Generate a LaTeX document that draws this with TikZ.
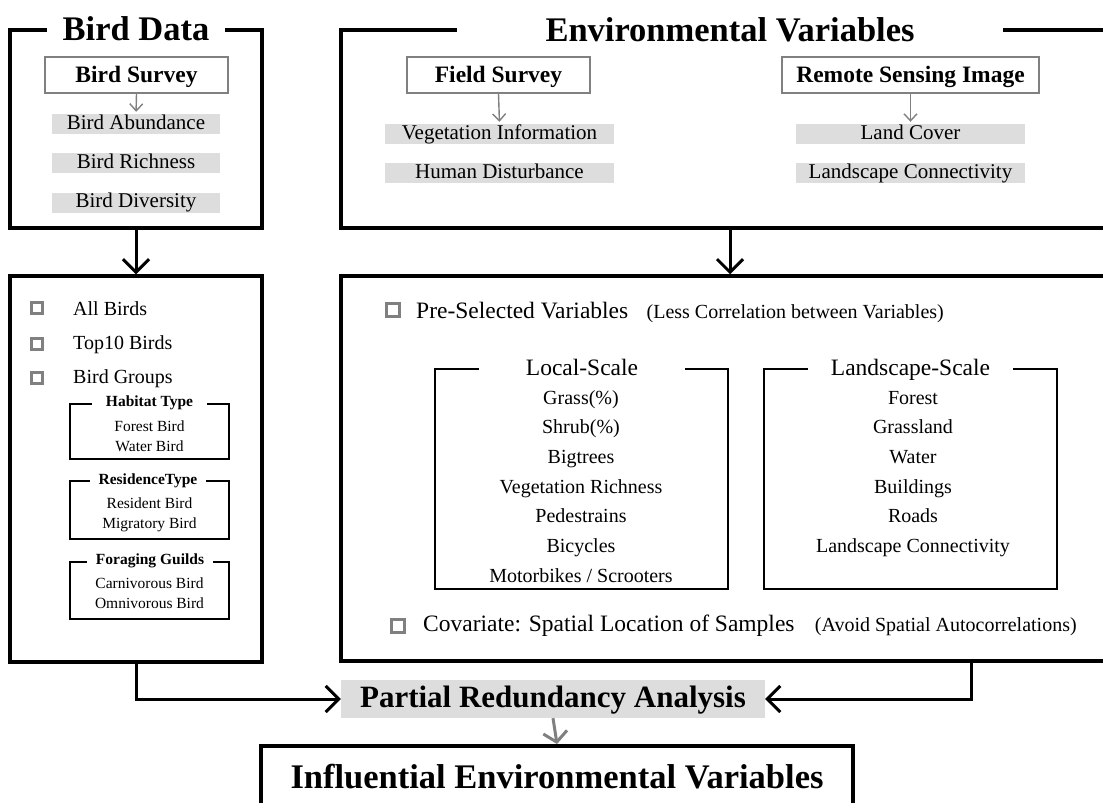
\documentclass[tikz,border=0pt]{standalone}
\usepackage{fontspec}
\setmainfont{Liberation Serif}
\definecolor{BarGray}{RGB}{221, 221, 221}
\definecolor{MidGray}{RGB}{128, 128, 128}
\usepackage{tikz}
\usetikzlibrary{arrows.meta, positioning}

\newcommand{\fsBig}{\fontsize{34.5}{40}\selectfont\bfseries}
\newcommand{\fsMid}{\fontsize{23.5}{28}\selectfont}
\newcommand{\fsText}{\fontsize{20}{24}\selectfont}
\newcommand{\fsSmall}{\fontsize{15.5}{18}\selectfont}

\begin{document}
\begin{tikzpicture}[x=1pt, y=-1pt, every node/.style={inner sep=0pt},
    mainbox/.style={draw, line width=3.5pt},
    scalebox/.style={draw, line width=2pt},
    groupbox/.style={draw, line width=1.8pt},
    gaptitle/.style={fill=white, anchor=base},
    surveybox/.style={draw=MidGray, line width=1.5pt, minimum height=36pt, font=\fsMid\bfseries, text height=16pt, text depth=2pt},
    barbox/.style={fill=BarGray, minimum height=20pt, font=\fontsize{21}{24}\selectfont, text height=14pt, text depth=4pt},
    bullet/.style={draw=MidGray, fill=white, line width=3pt, minimum size=11pt},
    listtext/.style={anchor=base west, font=\fsText},
    scaleitem/.style={font=\fsText, text height=14pt, text depth=4.5pt},
    subitem/.style={font=\fsSmall, text height=11pt, text depth=3.5pt},
    bigarrow/.style={-{Straight Barb[length=13pt, width=26pt]}, line width=3pt},
    grayarrow/.style={-{Straight Barb[length=7pt, width=13pt]}, draw=MidGray, line width=1.4pt, shorten >=2pt}]
    \useasboundingbox (0,0) rectangle (1103,803);

    % bird data
    \node[mainbox, minimum width=252pt, minimum height=198pt] (BD) at (136,129) {};
    \node[gaptitle, minimum width=178pt, font=\fsBig] (BDt) at (136,40) {Bird Data};
    \node[surveybox, minimum width=183pt] (BS) at (136.5,75) {Bird Survey};
    \node[barbox, minimum width=168pt] (BAb) at (136,124) {Bird Abundance};
    \node[barbox, minimum width=168pt, below=19pt of BAb] (BRi) {Bird Richness};
    \node[barbox, minimum width=168pt, below=19pt of BRi] (BDi) {Bird Diversity};
    \draw[grayarrow] (BS.south) -- (BAb.north);

    % environmental variables
    \node[mainbox, minimum width=778pt, minimum height=198pt] (EV) at (730,129) {};
    \node[gaptitle, minimum width=546pt, font=\fsBig] (EVt) at (730,41) {Environmental Variables};
    \node[surveybox, minimum width=183pt] (FS) at (498.5,75) {Field Survey};
    \node[surveybox, minimum width=257pt] (RS) at (910.5,75) {Remote Sensing Image};
    \node[barbox, minimum width=229pt] (VI) at (499.5,134) {Vegetation Information};
    \node[barbox, minimum width=229pt, below=19pt of VI] (HD) {Human Disturbance};
    \node[barbox, minimum width=229pt] (LC) at (910.5,134) {Land Cover};
    \node[barbox, minimum width=229pt, below=19pt of LC] (LCo) {Landscape Connectivity};
    \draw[grayarrow] (FS.south) -- (VI.north);
    \draw[grayarrow] (RS.south) -- (LC.north);

    % bird groups
    \node[mainbox, minimum width=252pt, minimum height=386pt] (BG) at (136,469) {};
    \node[listtext] (AB) at (73,315) {All Birds};
    \node[listtext] (TB) at (73,349) {Top10 Birds};
    \node[listtext] (GB) at (73,383) {Bird Groups};
    \node[bullet, left=29.5pt of AB] (ABb) {};
    \node[bullet, left=29.5pt of TB] (TBb) {};
    \node[bullet, left=29.5pt of GB] (GBb) {};

    \node[groupbox, minimum width=159pt, minimum height=55pt] (HT) at (149.5,431.5) {};
    \node[gaptitle, minimum width=115pt, font=\fsSmall\bfseries] (HTt) at (149.5,406.7) {Habitat Type};
    \node[subitem] (HT1) at (149.5,427.25) {Forest Bird};
    \node[subitem, below=5.5pt of HT1] (HT2) {Water Bird};

    \node[groupbox, minimum width=159pt, minimum height=58pt] (RT) at (149.5,510) {};
    \node[gaptitle, minimum width=116pt, font=\fsSmall\bfseries] (RTt) at (148,484.3) {ResidenceType};
    \node[subitem] (RT1) at (149.5,504.5) {Resident Bird};
    \node[subitem, below=5.5pt of RT1] (RT2) {Migratory Bird};

    \node[groupbox, minimum width=159pt, minimum height=57pt] (FG) at (149.5,590.5) {};
    \node[gaptitle, minimum width=126pt, font=\fsSmall\bfseries] (FGt) at (150,564) {Foraging Guilds};
    \node[subitem] (FG1) at (149.5,584.5) {Carnivorous Bird};
    \node[subitem, below=5.5pt of FG1] (FG2) {Omnivorous Bird};

    % selected variables
    \node[mainbox, minimum width=778pt, minimum height=385pt] (EM) at (730,468.5) {};
    \node[listtext, font=\fsMid] (PS) at (416,318) {Pre-Selected Variables};
    \node[bullet, minimum size=13pt, left=15.5pt of PS] (PSb) {};
    \node[font=\fsText, base right=18pt of PS] (PSn) {(Less Correlation between Variables)};

    \node[scalebox, minimum width=293pt, minimum height=220pt] (LS) at (581.5,479) {};
    \node[gaptitle, minimum width=206pt, font=\fsMid] (LSt) at (582,375) {Local-Scale};
    \node[scaleitem] (LS1) at (581,399.25) {Grass(\%)};
    \node[scaleitem, below=10.8pt of LS1] (LS2) {Shrub(\%)};
    \node[scaleitem, below=10.8pt of LS2] (LS3) {Bigtrees};
    \node[scaleitem, below=10.8pt of LS3] (LS4) {Vegetation Richness};
    \node[scaleitem, below=10.8pt of LS4] (LS5) {Pedestrains};
    \node[scaleitem, below=10.8pt of LS5] (LS6) {Bicycles};
    \node[scaleitem, below=10.8pt of LS6] (LS7) {Motorbikes / Scrooters};

    \node[scalebox, minimum width=293pt, minimum height=220pt] (LaS) at (910.5,479) {};
    \node[gaptitle, minimum width=205pt, font=\fsMid] (LaSt) at (910.5,375) {Landscape-Scale};
    \node[scaleitem] (LaS1) at (913,399.25) {Forest};
    \node[scaleitem, below=10.8pt of LaS1] (LaS2) {Grassland};
    \node[scaleitem, below=10.8pt of LaS2] (LaS3) {Water};
    \node[scaleitem, below=10.8pt of LaS3] (LaS4) {Buildings};
    \node[scaleitem, below=10.8pt of LaS4] (LaS5) {Roads};
    \node[scaleitem, below=10.8pt of LaS5] (LaS6) {Landscape Connectivity};

    \node[listtext, font=\fsMid] (CV) at (423,631.7) {Covariate: Spatial Location of Samples};
    \node[bullet, minimum size=13pt, left=17pt of CV] (CVb) {};
    \node[font=\fsText, base right=20pt of CV] (CVn) {(Avoid Spatial Autocorrelations)};

    % analysis and result
    \node[fill=BarGray, minimum width=424pt, minimum height=38pt, font=\fontsize{31}{36}\selectfont\bfseries, text height=21pt, text depth=5pt] (PRA) at (553,699) {Partial Redundancy Analysis};
    \node[mainbox, minimum width=592pt, minimum height=120pt, anchor=north] (IEV) at (557,744) {};
    \node[anchor=base, font=\fsBig] (IEVt) at (557,788) {Influential Environmental Variables};
    \coordinate (EMr) at (971,661);

    \draw[bigarrow] (BD.south) -- (BG.north);
    \draw[bigarrow] (EV.south) -- (EM.north);
    \draw[bigarrow] (BG.south) |- (PRA.west);
    \draw[bigarrow] (EMr) |- (PRA.east);
    \draw[-{Straight Barb[length=10pt, width=24pt]}, draw=MidGray, line width=3pt] (PRA.south) -- (IEV.north);
\end{tikzpicture}
\end{document}
